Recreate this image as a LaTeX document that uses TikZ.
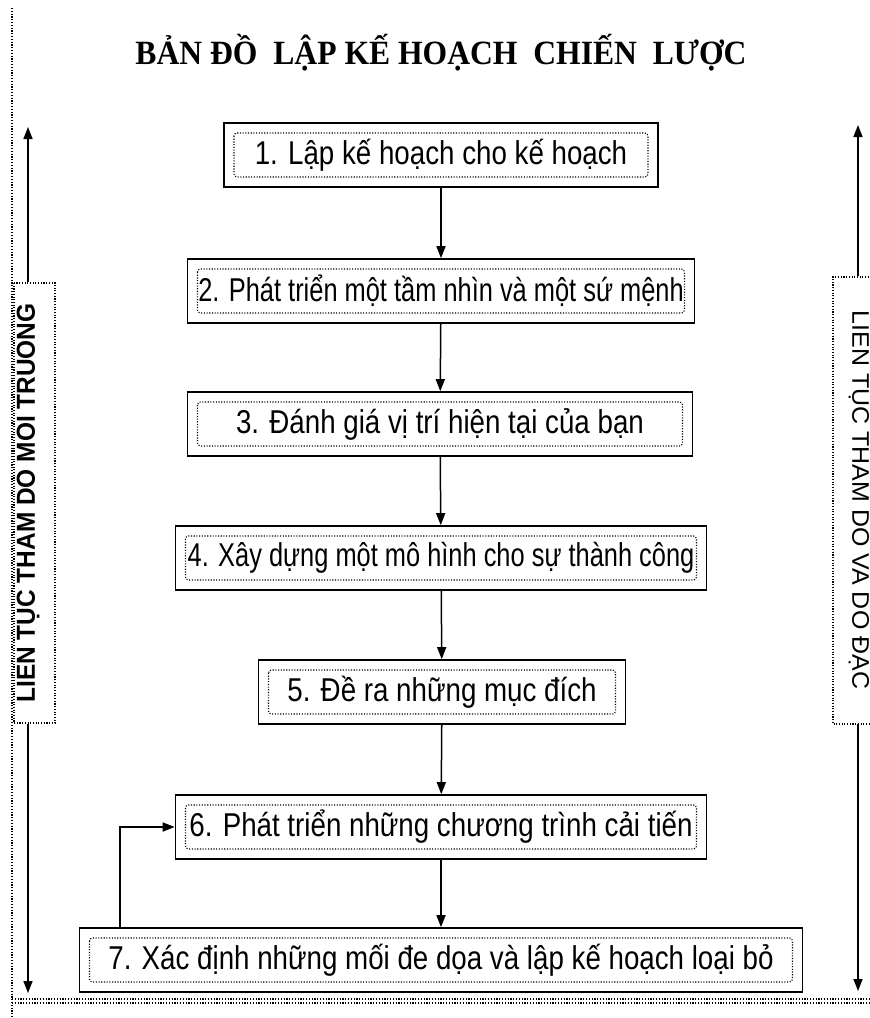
\documentclass[tikz,border=0pt]{standalone}
\usepackage{fontspec}
\usepackage{tikz}
\usetikzlibrary{arrows.meta, positioning, calc}

\newfontfamily\stepfont[FakeStretch=0.84]{Liberation Sans}
\newfontfamily\steptight[FakeStretch=0.77]{Liberation Sans}
\newfontfamily\titlefont[FakeStretch=0.93]{Liberation Serif}
\newfontfamily\envfont[FakeStretch=0.94]{Liberation Sans}
\newfontfamily\measfont[FakeStretch=1.04]{Liberation Sans}

\tikzset{
  innerdots/.style={line width=1.1pt, dash pattern=on 1.1pt off 1.6pt, rounded corners=3pt},
  stepbox/.style={draw, line width=1.6pt, minimum height=64pt, inner sep=0pt,
    font=\stepfont\fontsize{33}{35}\selectfont,
    path picture={\draw[innerdots]
      ([xshift=10pt,yshift=-10pt]path picture bounding box.north west) rectangle
      ([xshift=-10pt,yshift=10pt]path picture bounding box.south east);}},
  tight/.style={font=\steptight\fontsize{33}{35}\selectfont},
  sidebox/.style={line width=1.1pt, dash pattern=on 1.1pt off 1.6pt},
  pagedots/.style={line width=1.2pt, dash pattern=on 1.2pt off 1.6pt},
}

\begin{document}
\begin{tikzpicture}[x=1pt, y=-1pt, >={Triangle[length=12pt,width=9pt]}, line width=1.5pt]
  \useasboundingbox (0,0) rectangle (870,1018);
  % --- Title ---
  \node (title) at (441,53) {\titlefont\bfseries\fontsize{34}{36}\selectfont
    BẢN ĐỒ\ \ LẬP KẾ HOẠCH\ \ CHIẾN\ \ LƯỢC};
  % --- Steps ---
  \node[stepbox, minimum width=434pt] (s1) at (441,155) {1. Lập kế hoạch cho kế hoạch};
  \node[stepbox, tight, minimum width=507pt] (s2) at (441,291) {2. Phát triển một tầm nhìn và một sứ mệnh};
  \node[stepbox, minimum width=505pt] (s3) at (440,424) {3. Đánh giá vị trí hiện tại của bạn};
  \node[stepbox, tight, minimum width=531pt] (s4) at (441,558) {4. Xây dựng một mô hình cho sự thành công};
  \node[stepbox, minimum width=367pt] (s5) at (442,692) {5. Đề ra những mục đích};
  \node[stepbox, minimum width=531pt] (s6) at (441,827) {6. Phát triển những chương trình cải tiến};
  \node[stepbox, minimum width=723pt] (s7) at (441,960) {7. Xác định những mối đe dọa và lập kế hoạch loại bỏ};
  \foreach \a/\b in {s1/s2, s2/s3, s3/s4, s4/s5, s5/s6, s6/s7}
    \draw[->] (\a) -- (\b);
  % Feedback loop
  \coordinate (fb) at (120,0);
  \draw[->] (s7.north -| fb) |- (s6.west);
  % --- Side labels ---
  \draw[sidebox] (14,283) rectangle (55,723);
  \node[rotate=90, minimum width=440pt, inner sep=0pt] (envlab) at (28,503)
    {\envfont\bfseries\fontsize{26}{28}\selectfont LIEN TỤC THAM DO MOI TRUONG};
  \draw[sidebox] (885,277) -- (833,277) -- (833,724) -- (885,724);
  \node[rotate=-90, minimum width=447pt, inner sep=0pt] (measlab) at (859,500)
    {\measfont\fontsize{24}{26}\selectfont LIEN TỤC THAM DO VA DO ĐẠC};
  \coordinate (ltop) at (28,127);
  \coordinate (lbot) at (28,993);
  \coordinate (rtop) at (858,125);
  \coordinate (rbot) at (858,991);
  \draw[->] (envlab.east -| ltop) -- (ltop);
  \draw[->] (envlab.west -| lbot) -- (lbot);
  \draw[->] (measlab.west -| rtop) -- (rtop);
  \draw[->] (measlab.east -| rbot) -- (rbot);
  % --- Page edges ---
  \draw[pagedots] (12,8) -- (12,1018);
  \draw[pagedots] (12,999) -- (870,999);
  \draw[pagedots] (12,1003) -- (870,1003);
\end{tikzpicture}
\end{document}
